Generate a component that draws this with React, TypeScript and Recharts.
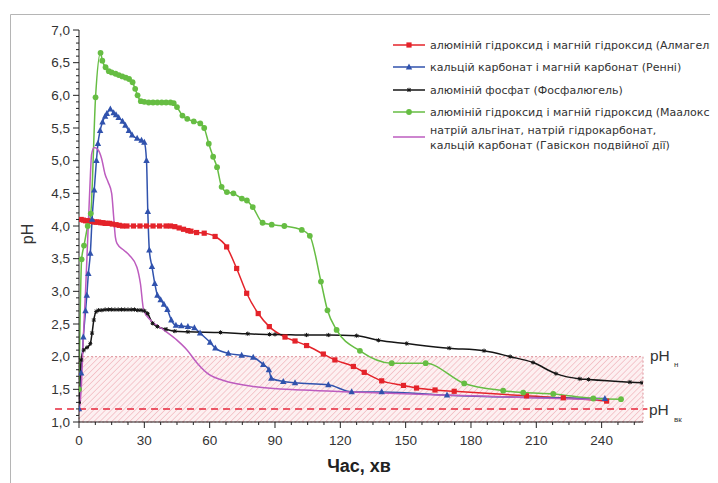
import React from 'react';
import { LineChart, Line, XAxis, YAxis, ReferenceArea, ReferenceLine } from 'recharts';

type Pt = { t: number; ph: number };
const toPts = (arr: number[][]): Pt[] => arr.map(([t, ph]) => ({ t, ph }));

// Series values: [time (min), pH]
const almagel = toPts([
  [1, 4.1], [2, 4.09], [3, 4.08], [4, 4.08], [5, 4.07], [6, 4.07], [7, 4.06], [8, 4.06], [9, 4.06],
  [10, 4.05], [11, 4.05], [12, 4.04], [13, 4.04], [14, 4.04], [15.3, 4.03], [17, 4.02], [18.5, 4.01],
  [20, 4.0], [22, 4.0], [25, 4.0], [28, 4.0], [31, 4.0], [34, 4.0], [37, 4.0], [40, 4.0], [42, 4.0],
  [44, 3.99], [46, 3.97], [48, 3.95], [50, 3.93], [51.4, 3.92], [54, 3.9], [57.5, 3.89], [62.5, 3.84],
  [67.8, 3.68], [72.4, 3.35], [77, 2.97], [82.3, 2.66], [87.4, 2.46], [94.6, 2.3], [99.2, 2.24],
  [104.5, 2.17], [112.2, 2.04], [117.5, 1.95], [126, 1.85], [131, 1.76], [139, 1.63], [149, 1.56],
  [155, 1.52], [163.5, 1.49], [172.3, 1.47], [205.5, 1.4], [222.4, 1.37], [242.3, 1.32],
]);

const rennie = toPts([
  [0, 1.2], [1, 1.75], [2, 2.3], [3, 2.7], [3.6, 2.94], [4.3, 3.27], [5.2, 3.58], [6, 4.1], [7, 4.55],
  [8, 5.0], [8.7, 5.26], [9.7, 5.46], [10.8, 5.59], [12, 5.68], [12.8, 5.72], [14.4, 5.79], [15.9, 5.73],
  [17, 5.7], [18.2, 5.66], [20, 5.6], [21.3, 5.54], [22.9, 5.46], [24.4, 5.39], [26.7, 5.34], [28.7, 5.31],
  [30, 5.28], [31, 5.0], [31.6, 4.22], [32.3, 3.63], [33.5, 3.38], [34.8, 3.12], [36, 2.94], [37.5, 2.87],
  [39, 2.8], [40.6, 2.72], [42.4, 2.56], [44.5, 2.48], [47, 2.47], [50, 2.46], [53, 2.44], [55.6, 2.36],
  [60.2, 2.22], [62.6, 2.13], [68.6, 2.05], [74.7, 2.02], [80, 1.99], [84.6, 1.88], [87.2, 1.8],
  [88.3, 1.67], [93.8, 1.62], [99.2, 1.6], [114.5, 1.57], [125.2, 1.46], [139, 1.46], [169, 1.41],
  [241.5, 1.36],
]);

const phosphalugel = toPts([
  [0, 1.3], [1, 1.95], [2.2, 2.1], [3.7, 2.14], [5.2, 2.2], [6, 2.36], [6.8, 2.56], [7.9, 2.69], [9, 2.71],
  [10.5, 2.71], [12, 2.72], [13.5, 2.72], [15, 2.72], [16.5, 2.72], [18, 2.72], [19.5, 2.72], [21, 2.72],
  [22.5, 2.72], [24, 2.72], [25.5, 2.72], [27, 2.71], [28.5, 2.71], [30, 2.7], [31.5, 2.66], [33.8, 2.51],
  [36, 2.46], [40, 2.42], [44, 2.39], [50, 2.38], [65, 2.37], [77.5, 2.35], [87.5, 2.34], [90, 2.34],
  [104.5, 2.33], [114.5, 2.33], [127.5, 2.32], [137.5, 2.25], [150.5, 2.2], [170, 2.13], [186, 2.09],
  [198, 2.0], [208.5, 1.91], [219, 1.74], [230, 1.66], [234, 1.65], [253, 1.61], [258.5, 1.6],
]);

const maalox = toPts([
  [0, 1.5], [1.2, 3.49], [2.3, 3.7], [4, 4.0], [5.4, 4.19], [7.6, 5.97], [9.9, 6.65], [10.7, 6.53],
  [12.2, 6.43], [13.7, 6.37], [15, 6.35], [16.8, 6.33], [18.3, 6.31], [19.9, 6.29], [21.5, 6.27], [23, 6.25],
  [24.6, 6.2], [25.8, 6.1], [26.9, 6.0], [28.4, 5.91], [30, 5.9], [32, 5.89], [34, 5.89], [36, 5.89],
  [38, 5.89], [40, 5.89], [42, 5.89], [43.5, 5.88], [45, 5.82], [47.5, 5.69], [49.7, 5.64], [52.7, 5.6],
  [55.7, 5.57], [57.5, 5.5], [59.6, 5.26], [61.6, 5.06], [63.4, 4.9], [65.5, 4.6], [67.9, 4.52],
  [70.9, 4.5], [74.8, 4.42], [77.1, 4.39], [79.8, 4.29], [84.3, 4.05], [88.5, 4.02], [94.3, 4.0],
  [102.3, 3.94], [106, 3.85], [111.1, 3.15], [114.1, 2.71], [118.3, 2.41], [129, 2.09], [143.6, 1.9],
  [159.2, 1.9], [176.9, 1.59], [194.8, 1.48], [204, 1.45], [217.8, 1.43], [236.2, 1.36], [248.9, 1.35],
]);

const gaviscon = toPts([
  [0, 1.15], [1, 1.5], [2, 2.3], [3, 3.0], [4, 3.8], [5, 4.6], [5.8, 5.1], [7, 5.2], [8.9, 5.16],
  [10.4, 5.03], [11.9, 4.8], [13.4, 4.67], [15, 4.5], [15.9, 4.15], [16.7, 3.83], [17.5, 3.73],
  [20.6, 3.63], [23.2, 3.55], [26.6, 3.37], [28.2, 3.12], [29.7, 2.71], [32.8, 2.56], [38.9, 2.41],
  [45.1, 2.25], [49.7, 2.1], [54.3, 1.9], [60, 1.72], [66, 1.64], [81, 1.54], [103, 1.49], [125.5, 1.46],
  [180, 1.4], [238.5, 1.34],
]);

const seriesNames = [
  ['алюміній гідроксид і магній гідроксид (Алмагель)'],
  ['кальцій карбонат і магній карбонат (Ренні)'],
  ['алюміній фосфат (Фосфалюгель)'],
  ['алюміній гідроксид і магній гідроксид (Маалокс)'],
  ['натрій альгінат, натрій гідрокарбонат,', 'кальцій карбонат (Гавіскон подвійної дії)'],
];

const yMajorTicks = [1, 1.5, 2, 2.5, 3, 3.5, 4, 4.5, 5, 5.5, 6, 6.5, 7];
const yTicks = Array.from({ length: 61 }, (_, i) => Math.round((1 + i * 0.1) * 10) / 10);
const xMajorTicks = [0, 30, 60, 90, 120, 150, 180, 210, 240];
const xTicks = Array.from({ length: 35 }, (_, i) => i * 7.5);

const pHUpper = 2.0;
const pHLower = 1.2;
const xMax = 259;

const COLORS = ['#e4232a', '#3052ad', '#151515', '#66bd43', '#bd5cbf'];
type MarkerKind = 'square' | 'triangle' | 'star' | 'circle' | 'none';
const MARKERS: MarkerKind[] = ['square', 'triangle', 'star', 'circle', 'none'];

const fmt = (v: number) => v.toFixed(1).replace('.', ',');
const isMajorY = (v: number) => yMajorTicks.some((m) => Math.abs(m - v) < 1e-6);
const isMajorX = (v: number) => xMajorTicks.some((m) => Math.abs(m - v) < 1e-6);

function Marker({ kind, cx, cy, color }: { kind: MarkerKind; cx: number; cy: number; color: string }) {
  if (kind === 'square') return <rect x={cx - 2.6} y={cy - 2.6} width={5.2} height={5.2} fill={color} />;
  if (kind === 'triangle')
    return <polygon points={`${cx},${cy - 3.6} ${cx - 3.2},${cy + 2.4} ${cx + 3.2},${cy + 2.4}`} fill={color} />;
  if (kind === 'circle') return <circle cx={cx} cy={cy} r={2.9} fill={color} />;
  if (kind === 'star')
    return (
      <g stroke={color} strokeWidth={1}>
        <line x1={cx - 2} y1={cy} x2={cx + 2} y2={cy} />
        <line x1={cx} y1={cy - 2.2} x2={cx} y2={cy + 2} />
        <line x1={cx - 1.6} y1={cy + 1.6} x2={cx + 1.6} y2={cy - 1.6} />
        <line x1={cx - 1.6} y1={cy - 1.6} x2={cx + 1.6} y2={cy + 1.6} />
      </g>
    );
  return null;
}

const makeDot = (kind: MarkerKind, color: string) => (p: any) => {
  const { cx, cy, index } = p;
  if (kind === 'none' || cx == null || cy == null) return <g key={`d${index}`} />;
  return (
    <g key={`d${index}`}>
      <Marker kind={kind} cx={cx} cy={cy} color={color} />
    </g>
  );
};

const YTick = (p: any) => {
  const { x, y, payload } = p;
  const v = payload.value as number;
  const major = isMajorY(v);
  return (
    <g>
      <line x1={x} x2={x - (major ? 6 : 3)} y1={y} y2={y} stroke="#222" strokeWidth={1} />
      {major && (
        <text x={x - 9} y={y} dy={4.6} textAnchor="end" fontSize={13.5} fill="#333">
          {fmt(v)}
        </text>
      )}
    </g>
  );
};

const XTick = (p: any) => {
  const { x, y, payload } = p;
  const v = payload.value as number;
  const major = isMajorX(v);
  return (
    <g>
      <line x1={x} x2={x} y1={y} y2={y + (major ? 6 : 3)} stroke="#222" strokeWidth={1} />
      {major && (
        <text x={x} y={y} dy={23} textAnchor="middle" fontSize={13.5} fill="#333">
          {String(v)}
        </text>
      )}
    </g>
  );
};

const series = [almagel, rennie, phosphalugel, maalox, gaviscon];

export default function App() {
  const legendRows = [37, 59, 82, 104, 129];
  return (
    <div
      style={{
        position: 'relative',
        width: 710,
        height: 475,
        overflow: 'hidden',
        fontFamily: '"Liberation Sans", Arial, sans-serif',
        background: '#fff',
      }}
    >
      <LineChart width={710} height={475} margin={{ top: 22, right: 75, left: 0, bottom: 31 }}>
        <defs>
          <pattern id="hatch" patternUnits="userSpaceOnUse" width="4.2" height="4.2" patternTransform="rotate(45)">
            <rect x="0" y="0" width="4.2" height="4.2" fill="#fdf0f1" />
            <line x1="0" y1="0" x2="0" y2="4.2" stroke="#f1b3bb" strokeWidth="1.3" />
          </pattern>
        </defs>
        <XAxis
          dataKey="t"
          type="number"
          domain={[0, xMax]}
          ticks={xTicks}
          interval={0}
          tickSize={0}
          tickMargin={0}
          tickLine={false}
          tick={(p: any) => <XTick {...p} />}
          axisLine={{ stroke: '#222', strokeWidth: 1 }}
          height={30}
          allowDataOverflow
        />
        <YAxis
          type="number"
          domain={[1, 7]}
          ticks={yTicks}
          interval={0}
          tickSize={0}
          tickMargin={0}
          tickLine={false}
          tick={(p: any) => <YTick {...p} />}
          axisLine={{ stroke: '#222', strokeWidth: 1 }}
          width={71}
          allowDataOverflow
        />
        <ReferenceArea
          x1={0}
          x2={xMax}
          y1={1}
          y2={pHUpper}
          fill="url(#hatch)"
          fillOpacity={1}
          stroke="#d9868e"
          strokeDasharray="2 2"
          strokeWidth={0.9}
          ifOverflow="visible"
        />
        <ReferenceLine
          segment={[{ x: -11, y: pHLower }, { x: 261, y: pHLower }]}
          stroke="#e6283c"
          strokeWidth={1.6}
          strokeDasharray="7 5"
          ifOverflow="visible"
        />
        {series.map((d, i) => (
          <Line
            key={i}
            data={d}
            dataKey="ph"
            type="monotone"
            stroke={COLORS[i]}
            strokeWidth={1.5}
            dot={makeDot(MARKERS[i], COLORS[i])}
            activeDot={false}
            isAnimationActive={false}
            legendType="none"
          />
        ))}
      </LineChart>
      <svg
        width={710}
        height={475}
        style={{ position: 'absolute', left: 0, top: 0, pointerEvents: 'none' }}
        fontFamily='"Liberation Sans", Arial, sans-serif'
      >
        <line x1={2.5} y1={6.5} x2={710} y2={6.5} stroke="#b5b5b5" strokeWidth={1} />
        <line x1={2.5} y1={6.5} x2={2.5} y2={475} stroke="#b5b5b5" strokeWidth={1} />
        <text x={0} y={0} transform="translate(25,226) rotate(-90)" textAnchor="middle" fontSize={16} fill="#333">
          pH
        </text>
        <text
          x={351}
          y={464}
          textAnchor="middle"
          fontSize={18}
          fontWeight="bold"
          fill="#222"
          fontFamily='"Liberation Sans Narrow", "Arial Narrow", "Liberation Sans", Arial, sans-serif'
        >
          Час, хв
        </text>
        <text x={642} y={353} fontSize={15.5} fill="#333">
          pH
        </text>
        <text x={666} y={359} fontSize={8} fill="#333">
          н
        </text>
        <text x={641} y={407} fontSize={15.5} fill="#333">
          pH
        </text>
        <text x={666} y={414} fontSize={8} fill="#333">
          вк
        </text>
        {seriesNames.map((lines, i) => {
          const cy = legendRows[i];
          const multi = lines.length > 1;
          return (
            <g key={i}>
              <line x1={385} x2={417} y1={cy} y2={cy} stroke={COLORS[i]} strokeWidth={1.5} />
              <Marker kind={MARKERS[i]} cx={401} cy={cy} color={COLORS[i]} />
              {lines.map((s, j) => (
                <text
                  key={j}
                  x={422}
                  y={multi ? cy - 7.5 + j * 15 : cy}
                  dy={4}
                  fontSize={11}
                  fill="#333"
                  fontFamily='"DejaVu Sans", Verdana, sans-serif'
                >
                  {s}
                </text>
              ))}
            </g>
          );
        })}
      </svg>
    </div>
  );
}
